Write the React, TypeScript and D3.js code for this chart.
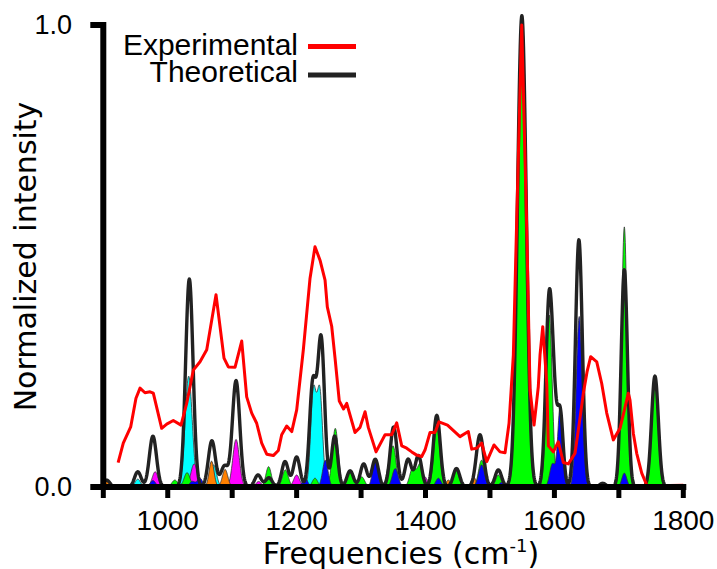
import React, { useEffect, useRef } from 'react';
import * as d3 from 'd3';

// Experimental spectrum: frequency (cm-1), normalized intensity
const expFreq = [923, 931, 942.5, 950.7, 957, 964.7, 972.5, 977.6, 990.6, 998.4, 1008.6, 1020.6, 1029.4, 1039.7,
  1050.1, 1060.5, 1074.9, 1087.3, 1094, 1104.4, 1114.8, 1122.5, 1130.3, 1138, 1145.8, 1153.6, 1163.8, 1171.6,
  1176.8, 1184.6, 1192.4, 1200.1, 1210.4, 1220.8, 1228.5, 1236.3, 1244.1, 1247.6, 1254.4, 1259.6, 1266.2, 1272.8,
  1277.7, 1290.6, 1298.4, 1306.2, 1311.2, 1323.2, 1337.2, 1347.5, 1355.3, 1363.1, 1370.8, 1378.6, 1386.3, 1394.1,
  1399.2, 1407, 1414.7, 1420.9, 1434.1, 1453.5, 1466.4, 1471.7, 1479.4, 1487.2, 1495, 1506.3, 1515.6, 1523.4,
  1529.6, 1536.3, 1541.5, 1549.3, 1557, 1562.2, 1568.4, 1575, 1577.7, 1581.9, 1588.1, 1590.6, 1598.3, 1606.1,
  1613.8, 1621.6, 1632, 1639.7, 1644.9, 1650.6, 1656.3, 1665.7, 1673.4, 1681.2, 1691.4, 1701.8, 1708, 1714.7,
  1717.3, 1722.5, 1727.7, 1735.5, 1743.3, 1779.4, 1800];
const expInt = [0.053, 0.095, 0.13, 0.192, 0.214, 0.204, 0.206, 0.203, 0.127, 0.136, 0.144, 0.134, 0.181, 0.253,
  0.271, 0.297, 0.416, 0.279, 0.26, 0.259, 0.316, 0.195, 0.16, 0.138, 0.095, 0.071, 0.068, 0.079,
  0.113, 0.132, 0.12, 0.167, 0.297, 0.452, 0.52, 0.491, 0.448, 0.39, 0.348, 0.279, 0.186, 0.169,
  0.181, 0.118, 0.129, 0.163, 0.129, 0.076, 0.113, 0.113, 0.139, 0.089, 0.084, 0.076, 0.069, 0.066,
  0.08, 0.118, 0.118, 0.141, 0.134, 0.109, 0.12, 0.082, 0.084, 0.095, 0.055, 0.091, 0.076, 0.074,
  0.138, 0.286, 0.578, 1.0, 0.563, 0.21, 0.134, 0.217, 0.286, 0.347, 0.224, 0.089, 0.076, 0.098,
  0.053, 0.05, 0.073, 0.149, 0.203, 0.249, 0.282, 0.271, 0.224, 0.16, 0.102, 0.127, 0.163, 0.203,
  0.188, 0.116, 0.073, 0.03, 0.004, 0.003, 0.004];

// Theoretical stick spectrum: [frequency, intensity, FWHM]
type Peak = [number, number, number];
const theoPeaks: Peak[] = [
  [905, 0.015, 12], [953.5, 0.033, 12], [977, 0.11, 13], [1033.5, 0.45, 13.5], [1068.5, 0.1, 13],
  [1088, 0.045, 13], [1106, 0.23, 13.5], [1140, 0.026, 12], [1157, 0.02, 12], [1182, 0.055, 12],
  [1200, 0.065, 12], [1225, 0.22, 12], [1238, 0.32, 12.5], [1259, 0.11, 11], [1283, 0.035, 12],
  [1304, 0.05, 12], [1322, 0.06, 12], [1350.5, 0.13, 12.5], [1373, 0.06, 12], [1389, 0.068, 12],
  [1417.5, 0.155, 12.5], [1448, 0.04, 12], [1484.5, 0.113, 13.5], [1513, 0.037, 12], [1549.5, 1.02, 16],
  [1592, 0.41, 12.5], [1600, 0.1, 10], [1609, 0.16, 10.5], [1638, 0.535, 12.5], [1675, 0.008, 11],
  [1708.5, 0.47, 11.5], [1756, 0.24, 12.5],
];

// contributions by mode type
const cyanPeaks: Peak[] = [
  [953.5, 0.017, 10], [1032.5, 0.24, 13], [1071, 0.048, 11], [1226, 0.205, 10], [1236, 0.205, 10],
];
const magentaPeaks: Peak[] = [
  [980.5, 0.033, 11], [1041, 0.05, 12], [1072, 0.01, 9], [1106, 0.103, 12], [1141, 0.012, 10],
  [1200, 0.026, 11], [1399, 0.022, 9], [1490, 0.012, 9],
];
const orangePeaks: Peak[] = [
  [905, 0.012, 11], [922, 0.004, 25], [1068, 0.056, 9], [1089, 0.038, 10], [1435.5, 0.015, 9],
  [1474.5, 0.022, 9], [1676, 0.006, 11],
];
const greenPeaks: Peak[] = [
  [1011, 0.015, 11], [1030, 0.031, 11], [1156.5, 0.044, 10], [1182.5, 0.037, 11], [1228.5, 0.019, 10],
  [1260, 0.127, 11], [1283, 0.033, 10], [1301, 0.022, 11], [1343, 0.037, 10], [1350.5, 0.08, 10],
  [1380, 0.04, 11], [1392, 0.05, 11], [1417.5, 0.13, 11], [1448, 0.037, 10], [1487, 0.058, 11],
  [1513, 0.026, 10], [1549.5, 1.0, 15], [1592, 0.372, 11], [1676, 0.008, 10], [1708.5, 0.563, 10],
  [1756, 0.24, 11],
];
const bluePeaks: Peak[] = [
  [977, 0.014, 10], [1038, 0.012, 10], [1050, 0.019, 10], [1213, 0.019, 10], [1244.5, 0.058, 10],
  [1322, 0.058, 10], [1353, 0.04, 11], [1420, 0.019, 10], [1487, 0.048, 11], [1518, 0.01, 9],
  [1597, 0.05, 10], [1609, 0.174, 9], [1638.5, 0.369, 11], [1708.5, 0.03, 9],
];

const groups: { peaks: Peak[]; color: string }[] = [
  { peaks: cyanPeaks, color: '#00ffff' },
  { peaks: magentaPeaks, color: '#ff00ff' },
  { peaks: orangePeaks, color: '#ff8000' },
  { peaks: greenPeaks, color: '#00ff00' },
  { peaks: bluePeaks, color: '#0000ff' },
];

const xTicks = [900, 1000, 1100, 1200, 1300, 1400, 1500, 1600, 1700, 1800];
const xLabels = [1000, 1200, 1400, 1600, 1800];
const yTicks = [0, 1];

// gaussian broadening of a stick spectrum on a fixed grid
function broaden(peaks: Peak[], grid: number[]) {
  const k = 4 * Math.LN2;
  return grid.map(f => ({
    f,
    v: d3.sum(peaks, ([c, h, w]) => h * Math.exp(-k * ((f - c) / w) ** 2)),
  }));
}

export default function App() {
  const svgRef = useRef<SVGSVGElement>(null);

  useEffect(() => {
    if (!svgRef.current) return;
    const svg = d3.select(svgRef.current);
    svg.selectAll('*').remove();

    const x = d3.scaleLinear().domain([900, 1800]).range([103.3, 683.3]);
    const y = d3.scaleLinear().domain([0, 1]).range([487, 25]);

    const grid = d3.range(900, 1800.01, 0.5);

    const area = d3.area<{ f: number; v: number }>()
      .x(d => x(d.f))
      .y0(y(0))
      .y1(d => y(d.v));
    const line = d3.line<{ f: number; v: number }>()
      .x(d => x(d.f))
      .y(d => y(d.v));

    const plot = svg.append('g');

    // colored contributions
    groups.forEach(gr => {
      plot.append('path')
        .datum(broaden(gr.peaks, grid))
        .attr('fill', gr.color)
        .attr('stroke', '#333')
        .attr('stroke-width', 0.8)
        .attr('d', area);
    });

    // theoretical total
    plot.append('path')
      .datum(broaden(theoPeaks, grid))
      .attr('fill', 'none')
      .attr('stroke', '#222')
      .attr('stroke-width', 3.4)
      .attr('stroke-linejoin', 'round')
      .attr('d', line);

    // experimental
    const expData = expFreq.map((f, i) => ({ f, v: expInt[i] }));
    plot.append('path')
      .datum(expData)
      .attr('fill', 'none')
      .attr('stroke', '#ff0000')
      .attr('stroke-width', 3)
      .attr('stroke-linejoin', 'round')
      .attr('d', line);

    // axes
    const ax = svg.append('g');
    ax.append('line')
      .attr('x1', x(900)).attr('x2', x(900))
      .attr('y1', y(1) - 3).attr('y2', y(0) + 3)
      .attr('stroke', '#000').attr('stroke-width', 6);
    ax.append('line')
      .attr('x1', x(900) - 3).attr('x2', x(1800) + 3)
      .attr('y1', y(0)).attr('y2', y(0))
      .attr('stroke', '#000').attr('stroke-width', 6);

    ax.selectAll('.xt')
      .data(xTicks)
      .enter().append('line')
      .attr('x1', d => x(d)).attr('x2', d => x(d))
      .attr('y1', y(0)).attr('y2', y(0) + 11)
      .attr('stroke', '#000').attr('stroke-width', 5);

    ax.selectAll('.yt')
      .data(yTicks)
      .enter().append('line')
      .attr('x1', x(900) - 13).attr('x2', x(900))
      .attr('y1', d => y(d)).attr('y2', d => y(d))
      .attr('stroke', '#000').attr('stroke-width', 6);

    const tickFont = '"Liberation Sans", Arial, sans-serif';
    ax.selectAll('.xl')
      .data(xLabels)
      .enter().append('text')
      .attr('x', d => x(d))
      .attr('y', 530)
      .attr('text-anchor', 'middle')
      .style('font-family', tickFont)
      .style('font-size', '28px')
      .text(d => d);

    ax.selectAll('.yl')
      .data(yTicks)
      .enter().append('text')
      .attr('x', 72)
      .attr('y', d => y(d) + 9)
      .attr('text-anchor', 'end')
      .style('font-family', tickFont)
      .style('font-size', '27px')
      .text(d => d3.format('.1f')(d));

    const titleFont = '"DejaVu Sans", sans-serif';
    const xt = svg.append('text')
      .attr('x', 401)
      .attr('y', 564)
      .attr('text-anchor', 'middle')
      .style('font-family', titleFont)
      .style('font-size', '30px');
    xt.append('tspan').text('Frequencies (cm');
    xt.append('tspan').attr('dy', -12).style('font-size', '18px').text('-1');
    xt.append('tspan').attr('dy', 12).text(')');

    svg.append('text')
      .attr('transform', 'translate(36,256.5) rotate(-90)')
      .attr('text-anchor', 'middle')
      .style('font-family', titleFont)
      .style('font-size', '30px')
      .text('Normalized intensity');

    // legend
    const legend = svg.append('g');
    const items = [
      { label: 'Experimental', color: '#ff0000', ty: 55, ly: 46.5 },
      { label: 'Theoretical', color: '#222', ty: 82, ly: 75 },
    ];
    items.forEach(it => {
      legend.append('text')
        .attr('x', 298)
        .attr('y', it.ty)
        .attr('text-anchor', 'end')
        .style('font-family', tickFont)
        .style('font-size', '30px')
        .text(it.label);
      legend.append('line')
        .attr('x1', 308).attr('x2', 356)
        .attr('y1', it.ly).attr('y2', it.ly)
        .attr('stroke', it.color)
        .attr('stroke-width', 5);
    });
  }, []);

  return (
    <svg
      ref={svgRef}
      width={717}
      height={569}
      style={{ position: 'absolute', left: 0, top: 0, background: '#fff' }}
    />
  );
}
